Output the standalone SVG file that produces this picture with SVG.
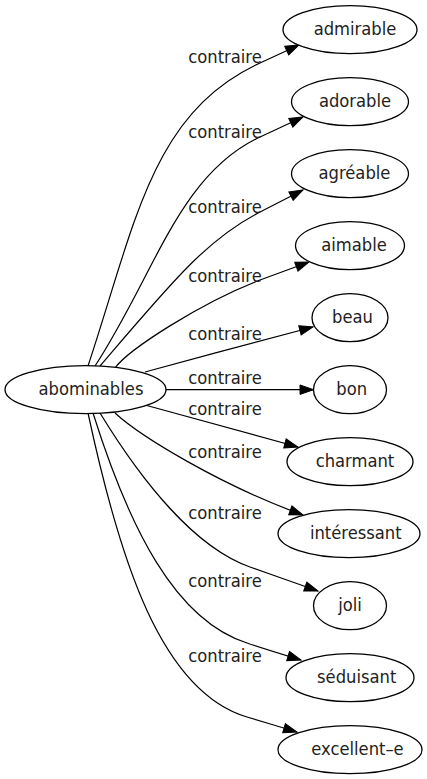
<svg xmlns="http://www.w3.org/2000/svg" width="427" height="779" viewBox="0 0 427 779">
<style>
.n ellipse{fill:#fff;stroke:#000;stroke-width:1.3}
.n text,.lbl text{font-family:"DejaVu Sans Condensed","DejaVu Sans",sans-serif;font-stretch:condensed;font-size:18.2px;fill:#222;text-anchor:middle}
.e path{fill:none;stroke:#000;stroke-width:1.2;marker-end:url(#arr)}
</style>
<defs>
<marker id="arr" markerUnits="userSpaceOnUse" markerWidth="14" markerHeight="10" refX="13.5" refY="4.75" orient="auto" overflow="visible">
<path d="M0,0 L13.5,4.75 L0,9.5 Z" fill="#000" stroke="#000" stroke-width="1"/>
</marker>
</defs>
<rect width="427" height="779" fill="#fff"/>
<g id="edges" class="e">
<path d="M88,366 C135.4,223.6 151,113.3 260,63 C273,57 286,51 299,45"/>
<path d="M95,366 C155.2,273.9 178.4,175 260,137 C274.3,130.3 288.7,123.7 303,117"/>
<path d="M100,366 C171.5,282.4 206.6,239.3 260,212 C274.3,204.7 288.7,197.3 303,190"/>
<path d="M115,368 C128,350 200,303 260,280 C276.3,274 292.7,268 309,262"/>
<path d="M145,372 C200,357 260,341 313,327"/>
<path d="M166,389.7 L313.5,389.7"/>
<path d="M145,405 C200,420 250,434 298,447"/>
<path d="M115,413 C140,436 220,485 303,515"/>
<path d="M100,413 C141.6,481 194.8,547.5 250,567 C272.7,575 295.3,583 318,591"/>
<path d="M93,413 C129,527.5 175,620.3 247,643 C265,649 283,654.5 301,660"/>
<path d="M88,413 C119.5,560 160.8,691.2 247,717 C264,722 280,727 297,732"/>
</g>
<g class="lbl">
<text x="225" y="63">contraire</text>
<text x="225" y="138">contraire</text>
<text x="225" y="213">contraire</text>
<text x="225" y="281.5">contraire</text>
<text x="225" y="339.5">contraire</text>
<text x="225" y="383.5">contraire</text>
<text x="225" y="414.5">contraire</text>
<text x="225" y="458">contraire</text>
<text x="225" y="518.5">contraire</text>
<text x="225" y="587">contraire</text>
<text x="225" y="661.5">contraire</text>
</g>
<g id="abominables" class="n"><ellipse cx="85.5" cy="389.7" rx="80.5" ry="24"/><text x="91" y="395.2">abominables</text></g>
<g id="admirable" class="n"><ellipse cx="350" cy="29.7" rx="67" ry="24"/><text x="355" y="35.2">admirable</text></g>
<g id="adorable" class="n"><ellipse cx="350" cy="101.7" rx="58.5" ry="24"/><text x="355" y="107.2">adorable</text></g>
<g id="agreable" class="n"><ellipse cx="350" cy="173.7" rx="58.5" ry="24"/><text x="354.5" y="179.2">agréable</text></g>
<g id="aimable" class="n"><ellipse cx="350" cy="245.7" rx="54.5" ry="24"/><text x="354" y="251.2">aimable</text></g>
<g id="beau" class="n"><ellipse cx="350" cy="317.7" rx="38" ry="24"/><text x="352.5" y="323.2">beau</text></g>
<g id="bon" class="n"><ellipse cx="350" cy="389.7" rx="36.5" ry="24"/><text x="351.7" y="395.2">bon</text></g>
<g id="charmant" class="n"><ellipse cx="350" cy="461.7" rx="63" ry="24"/><text x="355" y="467.2">charmant</text></g>
<g id="interessant" class="n"><ellipse cx="349" cy="533.7" rx="71" ry="24"/><text x="355.8" y="539.2">intéressant</text></g>
<g id="joli" class="n"><ellipse cx="350" cy="605.7" rx="36.5" ry="24"/><text x="350" y="611.2">joli</text></g>
<g id="seduisant" class="n"><ellipse cx="350" cy="677.7" rx="64" ry="24"/><text x="356.7" y="683.2">séduisant</text></g>
<g id="excellent-e" class="n"><ellipse cx="350" cy="749.7" rx="72" ry="24"/><text x="357.5" y="755.2">excellent–e</text></g>
</svg>
